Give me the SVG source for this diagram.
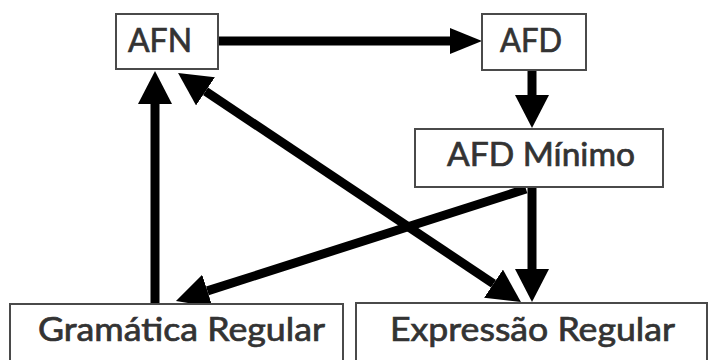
<svg xmlns="http://www.w3.org/2000/svg" width="708" height="360" viewBox="0 0 708 360">
<style>
.box{fill:#fff;stroke:#4a4a4a;stroke-width:2}
.lbl{font-family:Lato,"Liberation Sans",sans-serif;font-size:32px;fill:#333;stroke:#333;stroke-width:0.7}
.edge{fill:none;stroke:#000;stroke-width:9}
</style>
<defs>
<marker id="ah" viewBox="0 0 32 26" refX="0" refY="13" markerWidth="32" markerHeight="26" markerUnits="userSpaceOnUse" orient="auto">
<path d="M0,0 L32,13 L0,26 z" fill="#000"/>
</marker>
<marker id="av" viewBox="0 0 33 34" refX="0" refY="17" markerWidth="33" markerHeight="34" markerUnits="userSpaceOnUse" orient="auto-start-reverse">
<path d="M0,0 L33,17 L0,34 z" fill="#000"/>
</marker>
</defs>
<rect width="708" height="360" fill="#fff"/>
<g id="connectors">
<line class="edge" x1="219" y1="41" x2="450" y2="41" marker-end="url(#ah)"/>
<line class="edge" x1="532" y1="70" x2="532" y2="95" marker-end="url(#av)"/>
<line class="edge" x1="532" y1="187" x2="532" y2="269" marker-end="url(#av)"/>
<line class="edge" x1="155" y1="304" x2="155" y2="104" marker-end="url(#av)"/>
<line class="edge" x1="205.5" y1="91.3" x2="493.5" y2="283.7" marker-start="url(#av)" marker-end="url(#av)"/>
<line class="edge" x1="526" y1="189" x2="207.4" y2="290.9" marker-end="url(#av)"/>
</g>
<g id="afn">
<rect class="box" x="116" y="14" width="102" height="55"/>
<text class="lbl" x="128" y="52" textLength="64" lengthAdjust="spacingAndGlyphs">AFN</text>
</g>
<g id="afd">
<rect class="box" x="482" y="14" width="104" height="56"/>
<text class="lbl" x="500" y="52" textLength="62" lengthAdjust="spacingAndGlyphs">AFD</text>
</g>
<g id="afd-minimo">
<rect class="box" x="415" y="129" width="248" height="58"/>
<text class="lbl" x="447" y="166" textLength="188" lengthAdjust="spacingAndGlyphs">AFD Mínimo</text>
</g>
<g id="gramatica">
<rect class="box" x="10" y="304" width="333" height="70"/>
<text class="lbl" x="38" y="341" textLength="287" lengthAdjust="spacingAndGlyphs">Gramática Regular</text>
</g>
<g id="expressao">
<rect class="box" x="356" y="303" width="351" height="70"/>
<text class="lbl" x="390" y="341" textLength="285" lengthAdjust="spacingAndGlyphs">Expressão Regular</text>
</g>
</svg>
